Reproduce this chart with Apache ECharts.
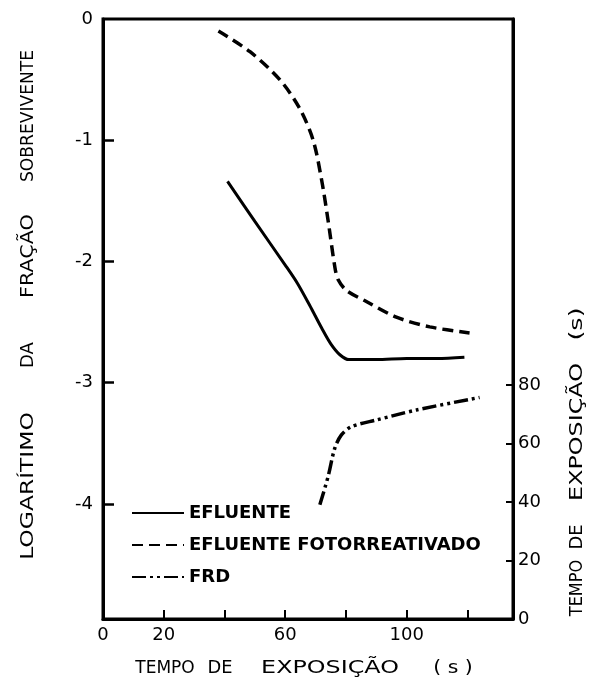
<!DOCTYPE html>
<html>
<head>
<meta charset="utf-8">
<script src="https://cdn.jsdelivr.net/npm/echarts@6/dist/echarts.min.js"></script>
<style>
  html, body { margin: 0; padding: 0; background: #fff; }
  #chart { width: 594px; height: 683px; }
</style>
</head>
<body>
<div id="chart"></div>
<script>
// valores
var efluenteX = [41, 50, 60, 64, 68, 72, 75, 78, 81, 90, 100, 110, 119];
var efluenteY = [-1.34, -1.67, -2.03, -2.18, -2.36, -2.55, -2.68, -2.77, -2.81, -2.81, -2.80, -2.80, -2.79];

var fotoX = [38, 48.4, 58.2, 64.8, 69.2, 72, 74.1, 76.3, 77.4, 80.2, 86.7, 96.6, 107.6, 120.7];
var fotoY = [-0.10, -0.27, -0.50, -0.74, -1.00, -1.33, -1.66, -2.04, -2.15, -2.24, -2.33, -2.46, -2.54, -2.59];

// FRD usa o eixo da direita (tempo de exposição)
var frdX = [71.4, 74.1, 76.3, 78.5, 81.8, 90, 103.2, 124];
var frdY = [39, 48.6, 58.3, 62.9, 65.7, 68, 71.4, 75.7];

var xTicks = [20, 40, 60, 80, 100, 120];
var xLabels = [0, 20, 60, 100];
var yTicks = [-1, -2, -3, -4];
var yLabels = [0, -1, -2, -3, -4];
var y2Ticks = [20, 40, 60, 80];
var y2Labels = [0, 20, 40, 60, 80];

function pares(xs, ys) {
  return xs.map(function (x, i) { return [x, ys[i]]; });
}

var fonte = 'DejaVu Sans';

// título em palavras separadas (o original tem letras bem espaçadas)
function palavra(texto, x, y, vertical, escala, tam) {
  return {
    type: 'text',
    x: x, y: y,
    rotation: vertical ? Math.PI / 2 : 0,
    scaleX: escala || 1,
    scaleY: 1,
    style: {
      text: texto,
      font: (tam || 17) + 'px "DejaVu Sans"', fill: '#000',
      textAlign: 'center', textVerticalAlign: 'middle'
    }
  };
}

var myChart = echarts.init(document.getElementById('chart'), null, { renderer: 'canvas' });

myChart.setOption({
  backgroundColor: '#fff',
  animation: false,
  grid: {
    left: 103, right: 81, top: 19, bottom: 64,
    show: true, borderColor: '#000', borderWidth: 3
  },
  legend: {
    orient: 'vertical',
    left: 131,
    top: 504,
    padding: 0,
    itemWidth: 52,
    itemHeight: 14,
    itemGap: 14,
    itemStyle: { color: 'rgba(0,0,0,0)', borderWidth: 0 },
    textStyle: { fontFamily: fonte, fontWeight: 'bold', fontSize: 18, color: '#000' },
    data: ['EFLUENTE', 'EFLUENTE FOTORREATIVADO', 'FRD']
  },
  xAxis: {
    type: 'value',
    min: 0,
    max: 135,
    splitLine: { show: false },
    axisLine: { onZero: false, lineStyle: { color: '#000', width: 3 } },
    axisTick: { inside: true, length: 9, lineStyle: { color: '#000', width: 2 }, customValues: xTicks },
    axisLabel: { color: '#000', fontFamily: fonte, fontSize: 18, margin: 7, customValues: xLabels }
  },
  yAxis: [{
    type: 'value',
    position: 'left',
    min: -4.95,
    max: 0,
    splitLine: { show: false },
    axisLine: { show: true, onZero: false, lineStyle: { color: '#000', width: 3 } },
    axisTick: { show: true, inside: true, length: 11, lineStyle: { color: '#000', width: 2.5 }, customValues: yTicks },
    axisLabel: { color: '#000', fontFamily: fonte, fontSize: 18, margin: 10, customValues: yLabels }
  }, {
    type: 'value',
    position: 'right',
    min: 0,
    max: 205,
    splitLine: { show: false },
    axisLine: { show: true, onZero: false, lineStyle: { color: '#000', width: 3 } },
    axisTick: { show: true, inside: true, length: 7, lineStyle: { color: '#000', width: 2 }, customValues: y2Ticks },
    axisLabel: { color: '#000', fontFamily: fonte, fontSize: 18, margin: 5, customValues: y2Labels }
  }],
  graphic: [
    // eixo da esquerda
    palavra('SOBREVIVENTE', 28, 116, true, 0.95, 18),
    palavra('FRAÇÃO', 28, 256, true, 1.15, 18),
    palavra('DA', 28, 355, true, 1, 18),
    palavra('LOGARÍTIMO', 28, 486, true, 1.3, 18),
    // eixo de baixo
    palavra('TEMPO', 165, 669, false, 1),
    palavra('DE', 220, 669, false, 1.05),
    palavra('EXPOSIÇÃO', 330, 669, false, 1.4),
    palavra('( s )', 453, 669, false, 1.2),
    // eixo da direita
    palavra('TEMPO', 578, 588, true, 0.95),
    palavra('DE', 578, 537, true, 1.05),
    palavra('EXPOSIÇÃO', 578, 432, true, 1.4),
    palavra('(s)', 578, 324, true, 1.5)
  ],
  series: [{
    name: 'EFLUENTE',
    type: 'line',
    symbol: 'none',
    smooth: 0.3,
    lineStyle: { color: '#000', width: 3 },
    itemStyle: { color: '#000' },
    data: pares(efluenteX, efluenteY)
  }, {
    name: 'EFLUENTE FOTORREATIVADO',
    type: 'line',
    symbol: 'none',
    smooth: 0.3,
    lineStyle: { color: '#000', width: 3.5, type: [11, 6] },
    itemStyle: { color: '#000' },
    data: pares(fotoX, fotoY)
  }, {
    name: 'FRD',
    type: 'line',
    yAxisIndex: 1,
    symbol: 'none',
    smooth: 0.3,
    lineStyle: { color: '#000', width: 3.5, type: [14, 4, 3, 4, 3, 4] },
    itemStyle: { color: '#000' },
    data: pares(frdX, frdY)
  }]
});
</script>
</body>
</html>
